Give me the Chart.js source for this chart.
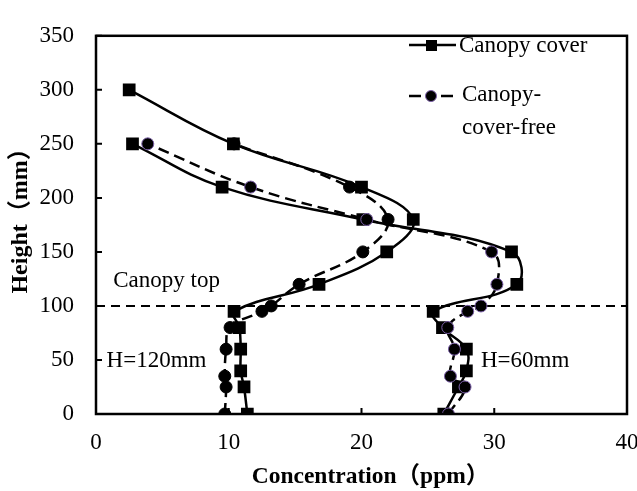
<!DOCTYPE html>
<html lang="en">

<head>
    <meta charset="utf-8" />
    <script src="https://cdn.jsdelivr.net/npm/chart.js@4.4.1/dist/chart.umd.min.js"></script>
    <style>
        body { margin: 0; background: #fff; }
    </style>
</head>

<body>
    <canvas id="concChart" width="637" height="491"></canvas>

    <script>
        // heights (mm) and concentrations (ppm)
        const h120CoverY = [0, 25, 40, 60, 80, 95, 120, 150, 180, 210, 250, 300];
        const h120CoverX = [11.4, 11.15, 10.9, 10.9, 10.8, 10.4, 16.8, 21.9, 23.9, 20.0, 10.35, 2.5];

        const h120FreeY = [0, 25, 35, 60, 80, 95, 100, 120, 150, 180, 210, 250];
        const h120FreeX = [9.7, 9.8, 9.7, 9.8, 10.1, 12.5, 13.2, 15.3, 20.1, 22.0, 19.1, 10.4];

        const h60CoverY = [0, 25, 40, 60, 80, 95, 120, 150, 180, 210, 250];
        const h60CoverX = [26.2, 27.3, 27.9, 27.9, 26.1, 25.4, 31.7, 31.3, 20.1, 9.5, 2.75];

        const h60FreeY = [0, 25, 35, 60, 80, 95, 100, 120, 150, 180, 210, 250];
        const h60FreeX = [26.55, 27.8, 26.7, 27.0, 26.5, 28.0, 29.0, 30.2, 29.8, 20.4, 11.65, 3.9];

        const xTicks = [0, 10, 20, 30, 40];
        const yTicks = [0, 50, 100, 150, 200, 250, 300, 350];
        const canopyTop = 100;

        const serif = "'Liberation Serif', 'Times New Roman', 'Noto Sans CJK SC', serif";
        const purple = '#7b5fa8';

        const pts = (xs, ys) => xs.map((x, i) => ({ x: x, y: ys[i] }));

        const coverStyle = {
            showLine: true, tension: 0.4, borderColor: '#000', borderWidth: 2.5,
            pointStyle: 'rect', pointRadius: 9, pointBackgroundColor: '#000', pointBorderColor: '#000', pointBorderWidth: 0
        };
        const freeStyle = {
            showLine: true, tension: 0.4, borderColor: '#000', borderWidth: 2.5, borderDash: [11, 6],
            pointStyle: 'circle', pointRadius: 6, pointBackgroundColor: '#000', pointBorderWidth: 1
        };

        // frame, inward ticks, canopy line, titles, labels and legend
        const decor = {
            id: 'decor',
            beforeDatasetsDraw(chart) {
                const { ctx, chartArea: a, scales: { y } } = chart;
                const yy = y.getPixelForValue(canopyTop);
                ctx.save();
                ctx.strokeStyle = '#000';
                ctx.lineWidth = 2;
                ctx.setLineDash([9, 6]);
                ctx.beginPath();
                ctx.moveTo(a.left, yy);
                ctx.lineTo(a.right, yy);
                ctx.stroke();
                ctx.restore();
            },
            afterDatasetsDraw(chart) {
                const { ctx, chartArea: a, scales: { x, y } } = chart;
                ctx.save();
                ctx.strokeStyle = '#000';
                ctx.lineWidth = 2.5;
                ctx.strokeRect(a.left, a.top, a.right - a.left, a.bottom - a.top);
                ctx.lineWidth = 2;
                ctx.beginPath();
                yTicks.forEach(v => {
                    const p = y.getPixelForValue(v);
                    ctx.moveTo(a.left, p);
                    ctx.lineTo(a.left + 6, p);
                });
                xTicks.forEach(v => {
                    const p = x.getPixelForValue(v);
                    ctx.moveTo(p, a.bottom);
                    ctx.lineTo(p, a.bottom - 6);
                });
                ctx.stroke();

                ctx.fillStyle = '#000';
                ctx.font = '23px ' + serif;
                ctx.textBaseline = 'middle';
                ctx.fillText('Canopy top', x.getPixelForValue(1.3), y.getPixelForValue(123));
                ctx.fillText('H=120mm', x.getPixelForValue(0.8), y.getPixelForValue(49));
                ctx.fillText('H=60mm', x.getPixelForValue(29), y.getPixelForValue(49));

                // legend
                ctx.lineWidth = 2.5;
                ctx.beginPath();
                ctx.moveTo(409, 45);
                ctx.lineTo(456, 45);
                ctx.stroke();
                ctx.fillRect(426, 40, 11, 11);
                ctx.fillText('Canopy cover', 459, 46);

                ctx.beginPath();
                ctx.moveTo(409, 96);
                ctx.lineTo(421, 96);
                ctx.moveTo(441, 96);
                ctx.lineTo(453, 96);
                ctx.stroke();
                ctx.beginPath();
                ctx.arc(431, 96, 5.5, 0, Math.PI * 2);
                ctx.fill();
                ctx.strokeStyle = purple;
                ctx.lineWidth = 1;
                ctx.stroke();
                ctx.fillText('Canopy-', 462, 95);
                ctx.fillText('cover-free', 462, 128);

                // axis titles
                ctx.textAlign = 'center';
                ctx.textBaseline = 'alphabetic';
                ctx.font = 'bold 23.5px ' + serif;
                ctx.fillText('Concentration（ppm）', (a.left + a.right) / 2 + 9, 483);
                ctx.font = 'bold 24px ' + serif;
                ctx.translate(27, (a.top + a.bottom) / 2 - 10);
                ctx.rotate(-Math.PI / 2);
                ctx.fillText('Height（mm）', 0, 0);
                ctx.restore();
            }
        };

        new Chart(document.getElementById('concChart'), {
            type: 'scatter',
            data: {
                datasets: [
                    { label: 'Canopy-cover-free H=60', data: pts(h60FreeX, h60FreeY), ...freeStyle, pointBorderColor: purple },
                    { label: 'Canopy-cover-free H=120', data: pts(h120FreeX, h120FreeY), ...freeStyle, pointBorderColor: '#000' },
                    { label: 'Canopy cover H=60', data: pts(h60CoverX, h60CoverY), ...coverStyle },
                    { label: 'Canopy cover H=120', data: pts(h120CoverX, h120CoverY), ...coverStyle }
                ]
            },
            options: {
                responsive: false,
                animation: false,
                layout: { padding: { top: 17, right: 10, left: 0, bottom: 0 } },
                plugins: { legend: { display: false }, tooltip: { enabled: false } },
                scales: {
                    x: {
                        type: 'linear', min: 0, max: 40,
                        afterBuildTicks: s => { s.ticks = xTicks.map(v => ({ value: v })); },
                        ticks: { color: '#000', font: { family: serif, size: 23 }, padding: 15, maxRotation: 0 },
                        grid: { display: false, drawTicks: false },
                        border: { display: false },
                        afterFit: s => { s.height = 77; s.paddingRight = 10; s.paddingLeft = 0; }
                    },
                    y: {
                        type: 'linear', min: 0, max: 350,
                        afterBuildTicks: s => { s.ticks = yTicks.map(v => ({ value: v })); },
                        ticks: { color: '#000', font: { family: serif, size: 23 }, padding: 22 },
                        grid: { display: false, drawTicks: false },
                        border: { display: false },
                        afterFit: s => { s.width = 96; }
                    }
                }
            },
            plugins: [decor]
        });
    </script>
</body>

</html>
